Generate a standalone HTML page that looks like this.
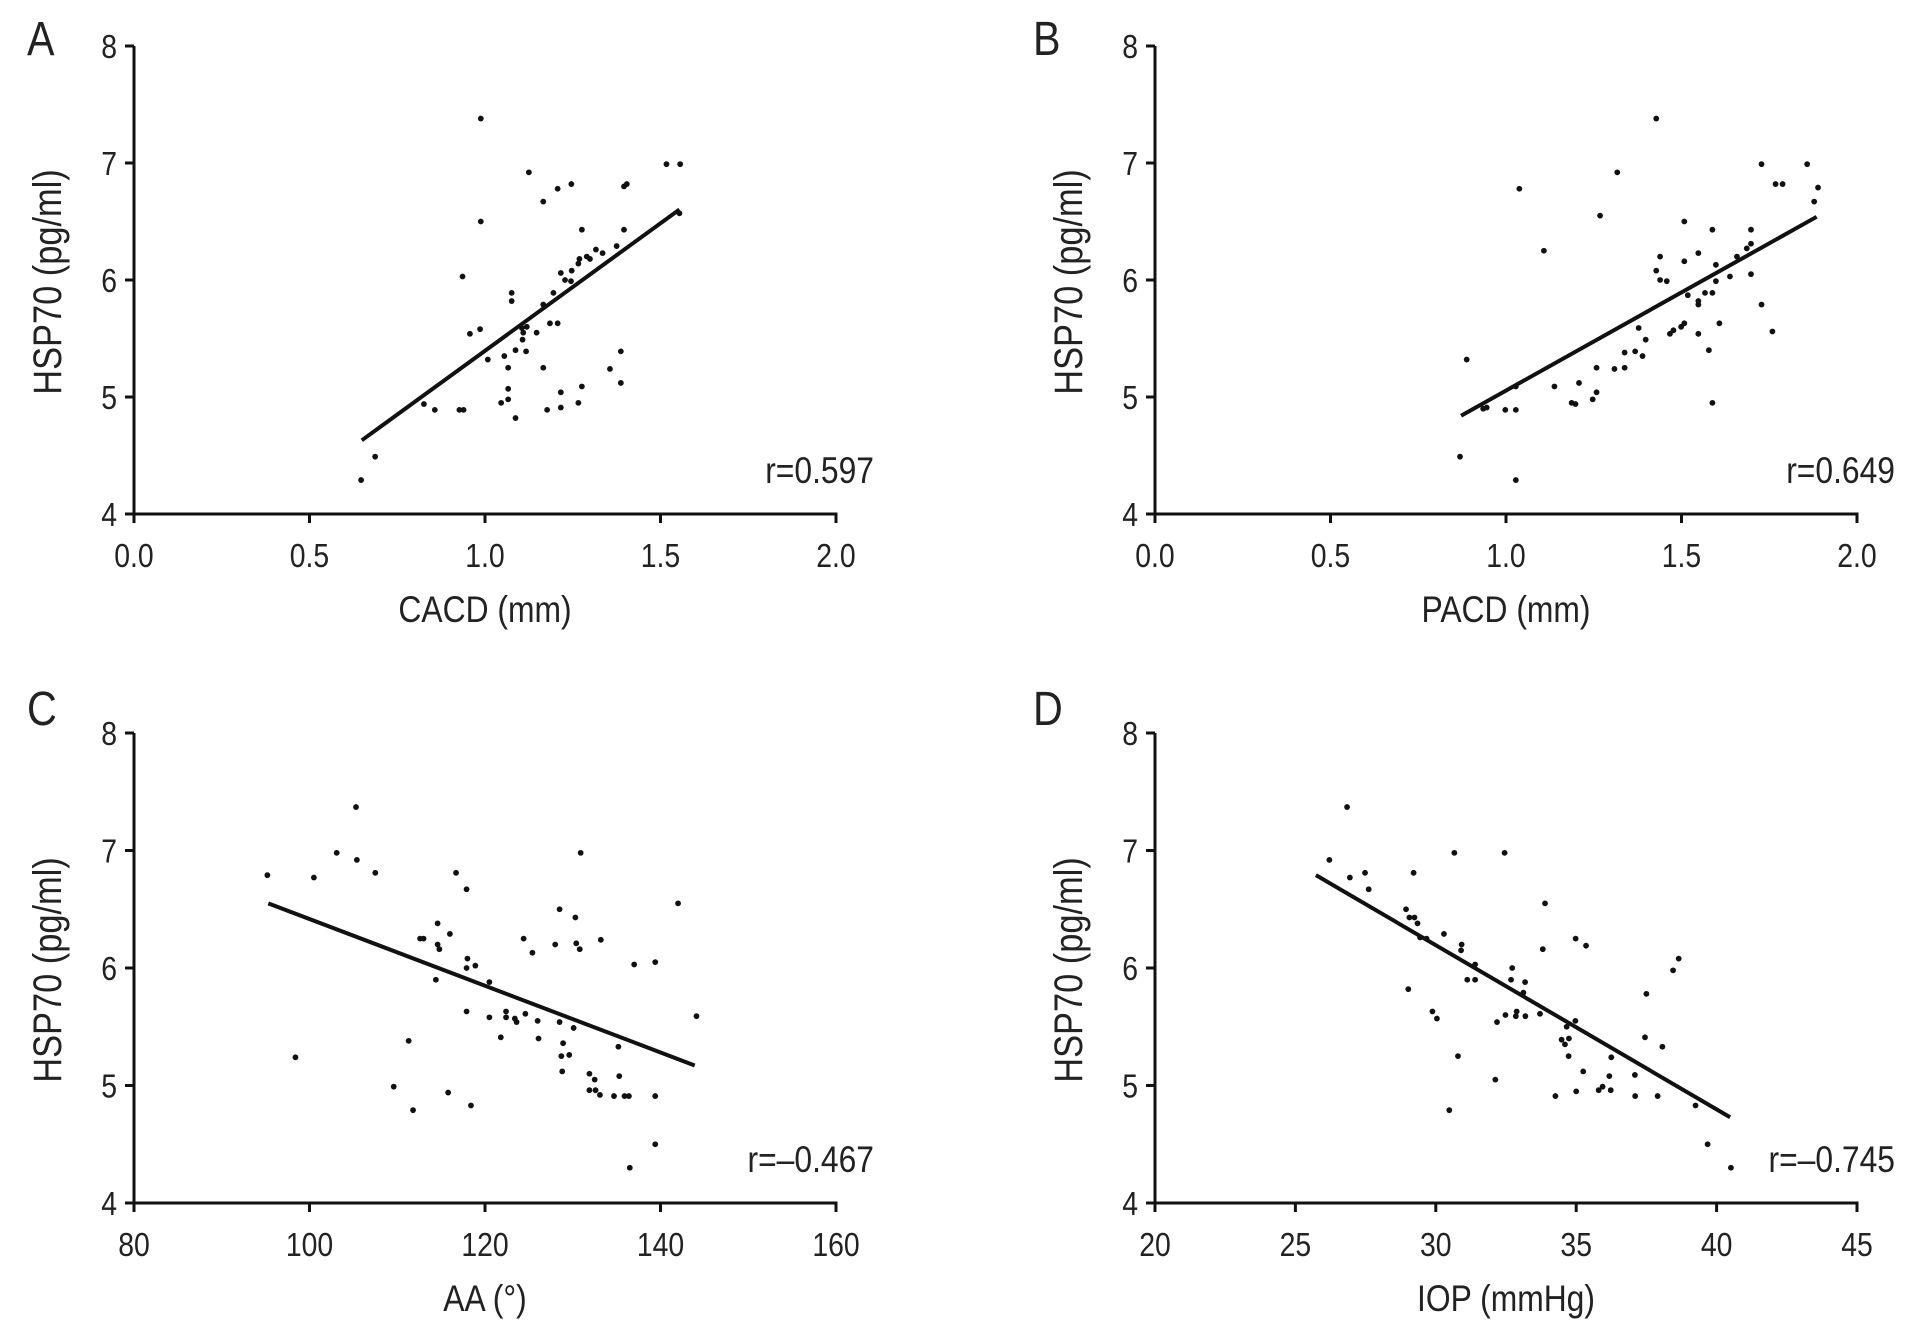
<!DOCTYPE html>
<html><head><meta charset="utf-8"><style>
body{margin:0;background:#fff}
svg{display:block;font-family:"Liberation Sans",Arial,sans-serif;fill:#222}
text{fill:#222}
</style></head><body>
<svg id="fig" width="1913" height="1330" viewBox="0 0 1913 1330"></svg>
<script>
// Panel A: CACD vs HSP70
const aX=[0.988,1.125,1.517,1.556,1.207,1.246,1.166,1.396,1.404,0.988,1.554,1.276,1.396,1.375,1.335,1.316,1.299,1.290,1.269,1.266,1.247,1.216,1.228,1.245,1.195,1.166,1.076,1.076,0.936,0.986,0.957,1.105,1.119,1.109,1.107,1.147,1.185,1.207,1.008,1.055,1.087,1.117,1.066,1.166,1.387,1.356,1.387,1.276,1.216,1.066,1.066,1.046,0.826,0.857,0.927,0.939,1.087,1.177,1.216,1.266,0.687,0.647];
const aY=[7.38,6.92,6.99,6.99,6.78,6.82,6.67,6.80,6.82,6.50,6.57,6.43,6.43,6.29,6.23,6.26,6.18,6.20,6.18,6.14,6.08,6.06,6.00,5.99,5.89,5.79,5.89,5.82,6.03,5.58,5.54,5.59,5.60,5.55,5.49,5.55,5.63,5.63,5.32,5.35,5.40,5.39,5.25,5.25,5.39,5.24,5.12,5.09,5.04,5.07,4.98,4.95,4.94,4.89,4.89,4.89,4.82,4.89,4.91,4.95,4.49,4.29];
const aFit=[2.18,3.215]; const aFitRange=[0.649,1.554];
// Panel B: PACD vs HSP70
const bX=[1.428,1.317,1.038,1.728,1.858,1.768,1.788,1.889,1.878,1.268,1.508,1.588,1.698,1.108,1.548,1.439,1.508,1.598,1.658,1.686,1.698,1.428,1.439,1.458,1.638,1.698,1.598,1.518,1.567,1.588,1.548,1.548,1.728,1.608,1.508,1.499,1.477,1.467,1.548,1.759,1.378,1.398,1.578,1.338,1.368,1.389,1.258,1.309,1.338,1.208,1.138,1.258,1.247,1.187,1.198,0.945,0.935,0.998,1.028,0.888,1.588,1.028,0.869,1.028];
const bY=[7.38,6.92,6.78,6.99,6.99,6.82,6.82,6.79,6.67,6.55,6.50,6.43,6.43,6.25,6.23,6.20,6.16,6.13,6.20,6.27,6.31,6.08,6.00,5.99,6.03,6.05,5.99,5.87,5.89,5.89,5.82,5.79,5.79,5.63,5.63,5.60,5.57,5.54,5.54,5.56,5.59,5.49,5.40,5.38,5.39,5.35,5.25,5.24,5.25,5.12,5.09,5.04,4.98,4.95,4.94,4.91,4.90,4.89,4.89,5.32,4.95,5.09,4.49,4.29];
const bFit=[1.678,3.377]; const bFitRange=[0.872,1.885];
// Panel C: AA vs HSP70
const cX=[105.3,95.2,100.5,103.1,105.4,107.5,116.7,117.9,130.9,142.0,128.5,130.3,114.6,116.0,112.6,113.0,114.6,114.8,124.4,128.0,130.4,130.8,133.2,125.4,118.0,117.9,118.9,137.0,139.4,114.4,120.5,117.9,120.5,122.4,122.4,123.4,123.6,124.6,126.0,128.5,130.1,144.1,121.8,126.1,128.9,128.7,129.6,128.8,135.2,131.9,132.5,135.3,131.9,132.6,133.1,134.7,135.9,136.4,139.4,111.3,98.4,109.6,111.8,115.8,118.4,139.4,136.5];
const cY=[7.37,6.79,6.77,6.98,6.92,6.81,6.81,6.67,6.98,6.55,6.50,6.43,6.38,6.29,6.25,6.25,6.20,6.16,6.25,6.20,6.21,6.16,6.24,6.13,6.08,6.00,6.02,6.03,6.05,5.90,5.88,5.63,5.58,5.63,5.58,5.57,5.54,5.61,5.55,5.54,5.49,5.59,5.41,5.40,5.36,5.25,5.26,5.12,5.33,5.10,5.05,5.08,4.96,4.96,4.92,4.91,4.91,4.91,4.91,5.38,5.24,4.99,4.79,4.94,4.83,4.50,4.30];
const cFit=[-0.0284,9.257]; const cFitRange=[95.3,143.9];
// Panel D: IOP vs HSP70
const dX=[26.84,26.21,26.94,27.48,27.61,29.21,30.66,32.45,28.94,29.06,29.24,29.35,29.44,29.67,30.29,30.92,30.90,31.40,31.12,31.40,29.02,33.89,33.81,34.98,35.35,32.72,32.68,33.18,33.12,29.88,30.04,32.18,32.48,32.85,32.88,33.19,33.71,34.97,34.66,34.48,34.60,34.74,34.73,36.25,37.45,38.07,37.50,38.45,38.65,30.79,35.25,36.18,37.09,32.12,34.26,35.00,35.80,35.94,36.23,37.10,37.90,39.25,30.48,39.68,40.51];
const dY=[7.37,6.92,6.77,6.81,6.67,6.81,6.98,6.98,6.50,6.43,6.43,6.38,6.26,6.25,6.29,6.20,6.15,6.03,5.90,5.90,5.82,6.55,6.16,6.25,6.19,6.00,5.90,5.88,5.79,5.63,5.57,5.54,5.60,5.59,5.63,5.59,5.61,5.55,5.50,5.39,5.35,5.40,5.25,5.24,5.41,5.33,5.78,5.98,6.08,5.25,5.12,5.08,5.09,5.05,4.91,4.95,4.96,4.99,4.96,4.91,4.91,4.83,4.79,4.50,4.30];
const dFit=[-0.1397,10.385]; const dFitRange=[25.73,40.48];

const yTicks=[4,5,6,7,8];
const xTicksAB=["0.0","0.5","1.0","1.5","2.0"];
const xTicksC=["80","100","120","140","160"];
const xTicksD=["20","25","30","35","40","45"];

const NS="http://www.w3.org/2000/svg";
const svg=document.getElementById('fig');
function mk(tag,attrs,parent){const e=document.createElementNS(NS,tag);for(const k in attrs)e.setAttribute(k,attrs[k]);(parent||svg).appendChild(e);return e;}
const SX=0.86;
function ctext(parent,x,y,size,anchor,str,extra){
 const t=mk('text',{x:0,y:0,'font-size':size,'text-anchor':anchor,transform:`translate(${x} ${y}) ${extra||''} scale(${SX} 1)`},parent);
 t.textContent=str;return t;
}

const panels=[
 {id:'a',L:'A',x0:134,x1:836,yTop:46,yBot:514,xmin:0,xmax:2,ticks:xTicksAB,xs:aX,ys:aY,fit:aFit,fr:aFitRange,xt:'CACD (mm)',r:'r=0.597',lx:27,ly:55},
 {id:'b',L:'B',x0:1155,x1:1857,yTop:46,yBot:514,xmin:0,xmax:2,ticks:xTicksAB,xs:bX,ys:bY,fit:bFit,fr:bFitRange,xt:'PACD (mm)',r:'r=0.649',lx:1033,ly:55},
 {id:'c',L:'C',x0:134,x1:836,yTop:733,yBot:1203,xmin:80,xmax:160,ticks:xTicksC,xs:cX,ys:cY,fit:cFit,fr:cFitRange,xt:'AA (°)',r:'r=\u20130.467',lx:27,ly:725},
 {id:'d',L:'D',x0:1155,x1:1857,yTop:733,yBot:1203,xmin:20,xmax:45,ticks:xTicksD,xs:dX,ys:dY,fit:dFit,fr:dFitRange,xt:'IOP (mmHg)',r:'r=\u20130.745',lx:1033,ly:725}
];

panels.forEach(p=>{
 const g=mk('g',{});
 
 
 const sx=v=>p.x0+(v-p.xmin)/(p.xmax-p.xmin)*(p.x1-p.x0);
 const sy=v=>p.yBot-(v-4)/4*(p.yBot-p.yTop);
 const lab=ctext(g,p.lx,p.ly,48,'start',p.L);
 
 
 const ya=mk('line',{x1:p.x0,y1:p.yTop,x2:p.x0,y2:p.yBot+1.5,stroke:'#111','stroke-width':3},g);
 
 
 const xa=mk('line',{x1:p.x0-1.5,y1:p.yBot,x2:p.x1+1.5,y2:p.yBot,stroke:'#111','stroke-width':3},g);
 
 
 yTicks.forEach(t=>{
  const y=sy(t);
  mk('line',{x1:p.x0-9,y1:y,x2:p.x0,y2:y,stroke:'#111','stroke-width':3},g);
  const tt=ctext(g,p.x0-17,y+12,33,'end',String(t));
  
  
 });
 p.ticks.forEach(t=>{
  const x=sx(parseFloat(t));
  mk('line',{x1:x,y1:p.yBot,x2:x,y2:p.yBot+9,stroke:'#111','stroke-width':3},g);
  const tt=ctext(g,x,p.yBot+53,33,'middle',t);
  
  
 });
 const xt=ctext(g,(p.x0+p.x1)/2,p.yBot+108,37,'middle',p.xt);
 
 
 const cy=(p.yTop+p.yBot)/2+2, cx=p.x0-73;
 const yt=ctext(g,cx,cy,40,'middle','HSP70 (pg/ml)','rotate(-90)');
 
 
 p.xs.forEach((v,i)=>{
  const c=mk('circle',{cx:sx(v),cy:sy(p.ys[i]),r:2.9,fill:'#111'},g);
  
  
 });
 const f=v=>p.fit[0]*v+p.fit[1];
 const ln=mk('line',{x1:sx(p.fr[0]),y1:sy(f(p.fr[0])),x2:sx(p.fr[1]),y2:sy(f(p.fr[1])),stroke:'#111','stroke-width':4},g);
 
 
 const r=ctext(g,p.x1+38,p.yBot-31,37,'end',p.r);
 
 
});
</script>
</body></html>
